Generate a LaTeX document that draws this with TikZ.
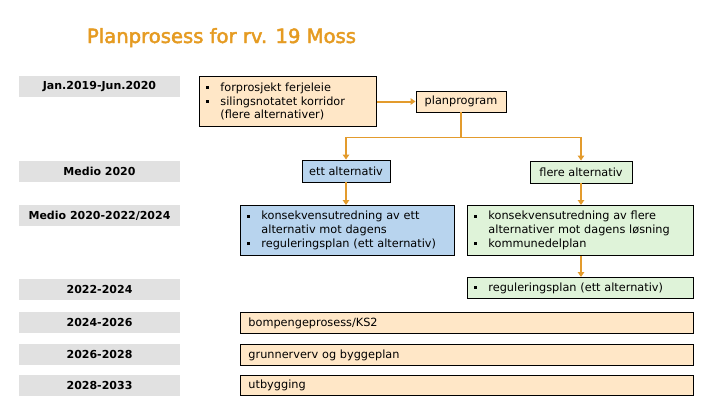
\documentclass[tikz,border=0pt]{standalone}
\usepackage{fontspec}
\setmainfont{DejaVu Sans}
\newfontfamily\titlefont[FakeBold=2.5]{DejaVu Sans}
\usetikzlibrary{arrows.meta}
\definecolor{titleor}{HTML}{E59B22}
\definecolor{conn}{HTML}{E39B2D}
\definecolor{peach}{HTML}{FFE7C7}
\definecolor{lblue}{HTML}{B8D4EE}
\definecolor{lgreen}{HTML}{DFF3D9}
\definecolor{lgray}{HTML}{E1E1E1}
\newcommand{\bu}{\makebox[14pt][l]{\raisebox{2.2pt}{\rule{2.8pt}{2.8pt}}}}
\newcommand{\ind}{\hspace*{14pt}}
\newcommand{\bodyfont}{\fontsize{11.3}{13.8}\selectfont}
\begin{document}
\begin{tikzpicture}[x=1pt,y=-1pt,
  lbl/.style={fill=lgray, draw=none, minimum width=161pt, minimum height=21pt, inner sep=0pt, font=\fontsize{11}{13}\selectfont\bfseries},
  cbx/.style={draw=black, line width=0.9pt, inner sep=0pt, font=\bodyfont},
  lbx/.style={draw=black, line width=0.9pt, inner xsep=7pt, inner ysep=0pt, anchor=north west, align=left, font=\bodyfont},
  arr/.style={draw=conn, line width=2pt, -{Triangle[width=6.5pt,length=5pt]}},
  thinln/.style={draw=conn, line width=1.3pt}]
\useasboundingbox (0,0) rectangle (720,405);
\node[anchor=base, font=\titlefont\fontsize{19.6}{22}\selectfont, text=titleor] (title) at (221.5,43) {Planprosess for rv. 19 Moss};
% time labels
\node[lbl] (t1) at (99.5,86.5) {Jan.2019-Jun.2020};
\node[lbl] (t2) at (99.5,171.5) {Medio 2020};
\node[lbl] (t3) at (99.5,215.5) {Medio 2020-2022/2024};
\node[lbl] (t4) at (99.5,289.5) {2022-2024};
\node[lbl] (t5) at (99.5,322) {2024-2026};
\node[lbl] (t6) at (99.5,354) {2026-2028};
\node[lbl] (t7) at (99.5,385) {2028-2033};
% boxes
\node[lbx, fill=peach, text width=163pt, minimum height=50pt] (fp) at (199,76)
  {\bu forprosjekt ferjeleie\\\bu silingsnotatet korridor\\\ind (flere alternativer)};
\node[cbx, fill=peach, minimum width=90pt, minimum height=21pt] (pp) at (461,101.5) {planprogram};
\node[cbx, fill=lblue, minimum width=88pt, minimum height=22pt] (ea) at (346,171) {ett alternativ};
\node[cbx, fill=lgreen, minimum width=102pt, minimum height=22pt] (fa) at (581,172) {flere alternativ};
\node[lbx, fill=lblue, text width=200pt, minimum height=50pt] (bl) at (240,205)
  {\bu konsekvensutredning av ett\\\ind alternativ mot dagens\\\bu reguleringsplan (ett alternativ)};
\node[lbx, fill=lgreen, text width=212pt, minimum height=50pt] (gn) at (467,205)
  {\bu konsekvensutredning av flere\\\ind alternativer mot dagens løsning\\\bu kommunedelplan};
\node[lbx, fill=lgreen, text width=212pt, minimum height=21pt] (rg) at (467,277)
  {\bu reguleringsplan (ett alternativ)};
\node[lbx, inner xsep=8pt, fill=peach, text width=437pt, minimum height=21pt] (bo) at (240,312) {bompengeprosess/KS2};
\node[lbx, inner xsep=8pt, fill=peach, text width=437pt, minimum height=21pt] (gr) at (240,344) {grunnerverv og byggeplan};
\node[lbx, inner xsep=8pt, fill=peach, text width=437pt, minimum height=20pt] (ut) at (240,375) {utbygging};
% connectors
\draw[arr] (fp.east |- pp.west) -- (pp.west);
\draw[thinln] (pp.south) -- ++(0,25) coordinate (j);
\draw[thinln] (ea.north |- j) -- (fa.north |- j);
\draw[arr] (ea.north |- j) -- (ea.north);
\draw[arr] (fa.north |- j) -- (fa.north);
\draw[arr] (ea.south) -- (ea.south |- bl.north);
\draw[arr] (fa.south) -- (fa.south |- gn.north);
\draw[arr] (fa.south |- gn.south) -- (fa.south |- rg.north);
\end{tikzpicture}
\end{document}
